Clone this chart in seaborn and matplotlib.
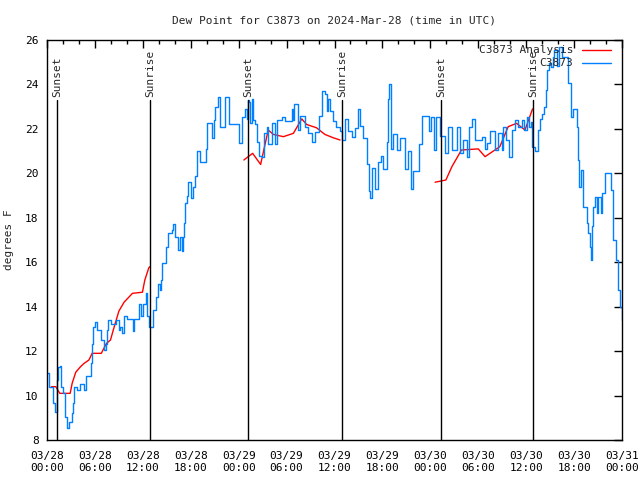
import numpy as np
import pandas as pd
import matplotlib
matplotlib.use('Agg')
import matplotlib.pyplot as plt
import matplotlib.dates as mdates
from matplotlib.lines import Line2D
import seaborn as sns

# Observed dew point (hours after 2024-03-28 00:00 UTC, degrees F)
obs_hours = [0.0, 0.25, 0.8, 0.95, 1.2, 1.4, 1.6, 1.8, 2.05, 2.2, 2.45, 2.75, 3.15, 3.3, 3.4,
             3.8, 4.15, 4.6, 4.65, 4.85, 5.45, 5.65, 5.8, 5.95, 6.3, 6.7, 7.15, 7.35, 7.5,
             7.65, 8.0, 8.6, 9.0, 9.2, 9.45, 9.65, 10.05, 10.8, 10.9, 11.5, 11.75, 12.0,
             12.35, 12.55, 12.75, 13.1, 13.3, 13.6, 13.85, 14.15, 14.25, 14.45, 14.85, 15.2,
             15.6, 15.8, 16.0, 16.45, 16.65, 16.85, 17.05, 17.2, 17.3, 17.5, 17.7, 18.0,
             18.3, 18.55, 18.8, 19.15, 19.55, 19.85, 20.05, 20.6, 20.85, 21.05, 21.4, 21.65,
             22.1, 22.3, 22.5, 22.8, 23.75, 24.1, 24.4, 24.65, 24.8, 25.0, 25.2, 25.35, 25.4,
             25.65, 25.85, 26.05, 26.25, 26.6, 26.9, 27.2, 27.5, 27.7, 28.15, 28.55, 28.85,
             29.4, 29.8, 30.65, 30.85, 30.95, 31.45, 31.7, 32.3, 32.7, 33.15, 33.55, 34.0,
             34.4, 34.8, 35.0, 35.2, 35.45, 35.85, 36.25, 36.7, 36.9, 37.3, 37.75, 38.15,
             38.6, 38.9, 39.2, 39.6, 40.05, 40.3, 40.45, 40.75, 41.05, 41.5, 41.8, 42.1,
             42.55, 42.75, 42.85, 43.05, 43.35, 43.8, 44.2, 44.8, 45.15, 45.45, 45.55, 45.85,
             46.3, 46.6, 47.0, 47.55, 47.85, 48.1, 48.4, 48.7, 49.2, 49.85, 50.25, 50.7,
             51.3, 51.7, 52.15, 52.55, 52.6, 52.9, 53.2, 53.6, 54.25, 54.45, 54.85, 55.05,
             55.45, 56.1, 56.5, 56.95, 57.15, 57.5, 57.9, 58.2, 58.6, 59.0, 59.45, 59.75,
             60.05, 60.35, 60.6, 60.75, 61.1, 61.45, 61.75, 62.0, 62.25, 62.45, 62.6, 62.85,
             63.1, 63.3, 63.45, 63.85, 64.15, 64.45, 65.1, 65.3, 65.6, 65.9, 66.35, 66.45,
             66.6, 66.85, 67.15, 67.6, 67.8, 68.0, 68.1, 68.2, 68.4, 68.6, 68.85, 69.05,
             69.35, 69.55, 69.85, 70.2, 70.6, 70.9, 71.2, 71.45, 71.75, 71.95]
obs_dewpt = [11.0, 10.4, 9.65, 9.27, 10.7, 11.3, 11.35, 10.4, 10.1, 9.05, 8.53, 8.8, 9.2, 9.65, 10.4,
             10.25, 10.5, 10.5, 10.25, 10.9, 11.45, 12.3, 13.1, 13.3, 12.95, 12.5, 12.05, 12.3, 12.95,
             13.4, 13.2, 13.4, 12.95, 13.1, 12.8, 13.6, 13.45, 12.9, 13.45, 14.1, 13.6, 14.1,
             14.6, 13.6, 13.1, 13.1, 13.85, 14.45, 15.0, 14.75, 15.2, 15.95, 16.7, 17.3,
             17.45, 17.7, 17.15, 16.55, 17.15, 16.5, 17.15, 17.75, 18.65, 19.0, 19.6, 18.9,
             19.4, 19.9, 21.0, 20.5, 20.5, 21.1, 22.25, 21.6, 22.4, 23.0, 23.45, 22.1,
             22.1, 23.45, 23.45, 22.2, 22.2, 21.35, 22.55, 22.55, 22.9, 22.45, 23.3, 23.2, 22.25,
             23.35, 22.4, 22.2, 21.4, 20.8, 20.75, 21.8, 22.1, 21.3, 22.25, 21.3, 22.4,
             22.55, 22.35, 22.9, 22.4, 23.1, 21.95, 22.6, 22.1, 21.8, 21.4, 21.85, 22.6,
             23.7, 23.55, 22.8, 23.35, 22.8, 22.35, 22.1, 21.9, 21.5, 22.45, 21.9, 21.65,
             22.05, 22.9, 22.15, 21.6, 20.4, 19.2, 18.9, 20.25, 19.3, 20.5, 20.8, 20.2,
             21.4, 23.35, 24.0, 21.1, 21.75, 21.05, 21.6, 20.2, 21.0, 21.0, 19.3, 20.1,
             20.1, 21.3, 22.6, 22.6, 21.9, 22.55, 21.05, 22.55, 21.7, 20.9, 22.1, 21.05,
             22.1, 20.9, 21.5, 21.4, 20.75, 22.1, 22.45, 21.5, 21.5, 21.65, 21.1, 21.35,
             21.9, 21.05, 21.8, 21.05, 22.1, 21.5, 20.75, 21.95, 22.4, 22.1, 22.4, 21.95,
             22.55, 22.1, 22.3, 21.2, 21.0, 21.95, 22.45, 22.65, 23.0, 23.75, 24.65, 24.95,
             24.8, 25.25, 25.55, 24.85, 25.7, 25.25, 25.25, 24.05, 22.55, 22.9, 22.1, 20.6,
             19.4, 20.15, 18.5, 17.75, 17.3, 16.7, 16.1, 17.65, 18.5, 18.95, 18.2, 18.95,
             18.2, 19.1, 20.0, 20.0, 19.25, 17.0, 16.1, 14.75, 14.0, 13.4]

# Analysis dew point, three separate overnight runs
ana_hours = [0.55, 1.1, 1.6, 2.9, 3.15, 3.6, 4.2, 4.65, 5.25, 5.65, 6.8, 7.45, 7.95, 8.3,
             9.0, 9.65, 10.7, 11.95, 12.25, 12.75, 12.9,
             24.65, 25.75, 26.75, 27.3, 27.7, 28.35, 29.6, 30.85, 31.9, 32.5, 33.75, 34.8,
             35.85, 36.7,
             48.6, 49.95, 50.7, 51.9, 54.0, 54.85, 56.7, 57.75, 58.8, 59.85, 60.8]
ana_dewpt = [10.4, 10.4, 10.1, 10.1, 10.55, 11.05, 11.3, 11.45, 11.6, 11.9, 11.9, 12.35, 12.5, 12.95,
             13.8, 14.2, 14.6, 14.65, 15.2, 15.75, 15.8,
             20.6, 20.9, 20.4, 21.3, 21.95, 21.75, 21.65, 21.8, 22.45, 22.2, 22.05, 21.75,
             21.6, 21.5,
             19.6, 19.7, 20.3, 21.05, 21.1, 20.75, 21.2, 22.1, 22.25, 21.95, 22.9]
ana_run = [1] * 21 + [2] * 14 + [3] * 11

# Sun events (hours after start)
sun_hours = [1.25, 12.9, 25.15, 36.95, 49.35, 60.85]
sun_labels = ['Sunset', 'Sunrise', 'Sunset', 'Sunrise', 'Sunset', 'Sunrise']

start = pd.Timestamp('2024-03-28 00:00')
obs = pd.DataFrame({'time': start + pd.to_timedelta(obs_hours, unit='h'), 'dewpt': obs_dewpt})
ana = pd.DataFrame({'time': start + pd.to_timedelta(ana_hours, unit='h'), 'dewpt': ana_dewpt,
                    'run': ana_run})
sun_times = start + pd.to_timedelta(sun_hours, unit='h')

sns.set_style('white')
plt.rcParams['font.family'] = ['DejaVu Sans Mono']

fig = plt.figure(figsize=(6.4, 4.8), dpi=100)
ax = fig.add_axes([47 / 640, 40 / 480, 575 / 640, 400 / 480])

blue = '#0080ff'
red = '#ff0000'
sns.lineplot(data=ana, x='time', y='dewpt', units='run', estimator=None,
             color=red, lw=1, ax=ax)
sns.lineplot(data=obs, x='time', y='dewpt', color=blue, lw=1, ax=ax,
             drawstyle='steps-post')

# sunrise / sunset markers
for t, lab in zip(sun_times, sun_labels):
    ax.axvline(t, ymin=0, ymax=(23.3 - 8) / 18, color='black', lw=1)
    ax.text(t, 23.45, lab, rotation=90, ha='center', va='bottom', fontsize=8)

ax.set_xlim(start, start + pd.Timedelta(hours=72))
ax.set_ylim(8, 26)
ax.set_yticks(np.arange(8, 27, 2))
ax.xaxis.set_major_locator(mdates.HourLocator(byhour=[0, 6, 12, 18]))
ax.xaxis.set_minor_locator(mdates.HourLocator(interval=2))
ax.xaxis.set_major_formatter(mdates.DateFormatter('%m/%d\n%H:%M'))
ax.tick_params(which='both', direction='in', top=True, right=True, labelsize=8,
               colors='black', width=1)
ax.tick_params(which='major', length=6)
ax.tick_params(which='minor', length=3)
ax.tick_params(axis='x', which='major', pad=8)
ax.tick_params(axis='y', which='major', pad=6)
for s in ax.spines.values():
    s.set_color('black')
    s.set_linewidth(1)

ax.set_xlabel('')
ax.set_ylabel('degrees F', fontsize=8, labelpad=8)
ax.set_title('Dew Point for C3873 on 2024-Mar-28 (time in UTC)', fontsize=8, pad=12)

# gnuplot-style key: right-aligned text followed by line sample
for i, (lab, col) in enumerate([('C3873 Analysis', red), ('C3873', blue)]):
    y = 0.975 - i * 0.032
    ax.text(0.915, y, lab, transform=ax.transAxes, ha='right', va='center', fontsize=8)
    ax.add_line(Line2D([0.93, 0.98], [y, y], transform=ax.transAxes, color=col, lw=1))

fig.savefig('out.png', dpi=100)
